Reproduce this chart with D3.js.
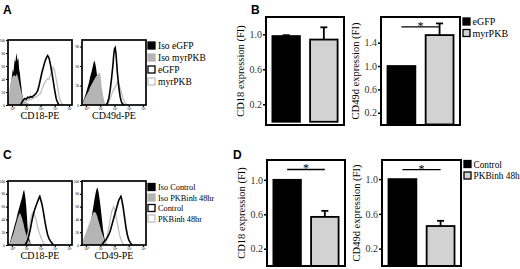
<!DOCTYPE html>
<html>
<head>
<meta charset="utf-8">
<script src="https://cdn.jsdelivr.net/npm/d3@7"></script>
<style>
  body { margin: 0; background: #fff; }
</style>
</head>
<body>
<svg id="fig" width="520" height="269" font-family="Liberation Serif, Times New Roman, serif"></svg>
<script>
// ---- data ----------------------------------------------------------------
// flow histograms: [log decade, % of max count]
var decades = [0, 1, 2, 3, 4];

var a1_isoEgfp = [[-0.3,0],[-0.2,8],[-0.1,30],[0,45],[0.05,55],[0.1,50],[0.15,62],[0.2,70],[0.25,66],[0.3,80],[0.35,74],[0.4,68],[0.45,72],[0.5,55],[0.55,50],[0.6,38],[0.65,30],[0.7,18],[0.8,8],[0.9,3],[1.0,0]];
var a1_isoMyr  = [[-0.3,0],[-0.25,10],[-0.15,28],[-0.05,40],[0.05,44],[0.15,46],[0.25,44],[0.35,48],[0.45,40],[0.55,30],[0.65,20],[0.75,12],[0.85,8],[0.95,6],[1.05,4],[1.2,2],[1.4,0]];
var a1_egfp    = [[0.6,0],[0.7,4],[0.8,8],[0.9,10],[1.0,9],[1.1,12],[1.2,11],[1.3,13],[1.4,12],[1.5,14],[1.6,16],[1.7,18],[1.8,22],[1.9,30],[2.0,40],[2.1,50],[2.2,58],[2.3,66],[2.4,72],[2.5,76],[2.55,74],[2.6,72],[2.7,62],[2.8,50],[2.9,36],[3.0,22],[3.1,10],[3.2,4],[3.3,0]];
var a1_myr     = [[0.7,0],[0.8,4],[0.9,6],[1.0,7],[1.2,8],[1.4,9],[1.6,12],[1.8,14],[2.0,18],[2.1,24],[2.2,30],[2.3,34],[2.4,38],[2.5,40],[2.6,40],[2.7,46],[2.8,54],[2.9,58],[3.0,52],[3.1,40],[3.2,28],[3.3,14],[3.4,6],[3.5,2],[3.6,0]];

var a2_isoEgfp = [[-0.25,0],[-0.2,6],[-0.1,12],[0,18],[0.1,26],[0.2,34],[0.3,44],[0.4,52],[0.5,62],[0.55,66],[0.6,68],[0.65,64],[0.7,58],[0.75,50],[0.8,40],[0.9,24],[1.0,10],[1.1,3],[1.2,0]];
var a2_isoMyr  = [[-0.25,0],[-0.2,5],[-0.1,10],[0,14],[0.1,18],[0.2,22],[0.3,28],[0.4,32],[0.5,36],[0.6,40],[0.7,44],[0.8,46],[0.9,50],[1.0,48],[1.05,40],[1.1,28],[1.2,14],[1.3,5],[1.4,0]];
var a2_egfp    = [[1.4,0],[1.5,3],[1.6,10],[1.7,24],[1.8,42],[1.9,64],[1.95,78],[2.0,86],[2.05,88],[2.1,80],[2.15,66],[2.2,50],[2.3,28],[2.4,12],[2.5,4],[2.6,1],[2.7,0]];
var a2_myr     = [[1.5,0],[1.6,4],[1.7,10],[1.8,16],[1.9,22],[2.0,26],[2.1,30],[2.2,34],[2.25,36],[2.3,32],[2.4,26],[2.5,18],[2.6,10],[2.7,5],[2.8,2],[2.95,0]];

var c1_isoCtrl = [[-0.2,0],[-0.1,8],[0,16],[0.1,24],[0.2,32],[0.3,40],[0.4,50],[0.5,58],[0.6,66],[0.7,74],[0.8,84],[0.85,86],[0.9,80],[0.95,72],[1.0,60],[1.05,44],[1.1,26],[1.2,10],[1.3,3],[1.4,0]];
var c1_isoInh  = [[-0.2,0],[-0.1,6],[0,12],[0.1,18],[0.2,26],[0.3,34],[0.4,42],[0.5,48],[0.55,50],[0.6,48],[0.7,42],[0.8,34],[0.9,24],[1.0,16],[1.1,10],[1.2,6],[1.3,3],[1.4,0]];
var c1_ctrl    = [[0.9,0],[1.0,3],[1.1,8],[1.2,16],[1.3,26],[1.4,38],[1.5,48],[1.6,56],[1.7,62],[1.8,68],[1.9,74],[1.95,76],[2.0,72],[2.1,64],[2.2,52],[2.3,38],[2.4,26],[2.5,16],[2.6,10],[2.7,6],[2.8,3],[2.9,0]];
var c1_inh     = [[0.9,0],[1.0,6],[1.1,16],[1.2,28],[1.3,40],[1.4,48],[1.5,52],[1.55,50],[1.6,46],[1.7,38],[1.8,28],[1.9,20],[2.0,14],[2.1,8],[2.2,4],[2.3,1],[2.4,0]];

var c2_isoCtrl = [[0,0],[0.1,8],[0.2,18],[0.3,30],[0.4,44],[0.5,58],[0.6,72],[0.7,84],[0.75,88],[0.8,90],[0.85,86],[0.9,80],[1.0,64],[1.1,44],[1.2,24],[1.3,10],[1.4,3],[1.5,0]];
var c2_isoInh  = [[-0.25,0],[-0.2,8],[-0.1,14],[0,20],[0.1,26],[0.2,32],[0.3,38],[0.4,44],[0.5,50],[0.6,52],[0.7,50],[0.8,44],[0.9,36],[1.0,28],[1.1,20],[1.2,14],[1.3,8],[1.4,4],[1.6,0]];
var c2_ctrl    = [[1.1,0],[1.2,3],[1.3,6],[1.4,8],[1.5,12],[1.6,16],[1.7,22],[1.8,30],[1.9,38],[2.0,46],[2.1,54],[2.2,62],[2.3,70],[2.4,74],[2.45,76],[2.5,72],[2.6,60],[2.7,44],[2.8,28],[2.9,16],[3.0,8],[3.1,4],[3.2,1],[3.3,0]];
var c2_inh     = [[1.3,0],[1.4,6],[1.5,16],[1.6,28],[1.7,40],[1.8,52],[1.9,58],[1.95,60],[2.0,56],[2.1,46],[2.2,34],[2.3,22],[2.4,12],[2.5,6],[2.6,2],[2.7,0]];

// bar charts: fold induction (FI)
var groupsB = ["eGFP", "myrPKB"];
var cd18B = [0.98, 0.94],  cd18Berr = [0.01, 0.14];
var cd49dB = [1.0, 1.53],  cd49dBerr = [0, 0.20];
var groupsD = ["Control", "PKBinh 48h"];
var cd18D = [1.0, 0.57],   cd18Derr = [0, 0.07];
var cd49dD = [1.0, 0.46],  cd49dDerr = [0, 0.06];

var legendA = ["Iso eGFP", "Iso myrPKB", "eGFP", "myrPKB"];
var legendC = ["Iso Control", "Iso PKBinh 48hr", "Control", "PKBinh 48hr"];

// ---- drawing --------------------------------------------------------------
var svg = d3.select("#fig");
var GRAY = "#b4b4b4", LGRAY = "#c0c0c0", BARGRAY = "#d2d2d2";
var sup = ["\u2070", "\u00b9", "\u00b2", "\u00b3", "\u2074"];

function drawHist(o) {
    var x = d3.scaleLinear().domain([-0.28, 4.21]).range([o.left, o.left + o.w]);
    var y = d3.scaleLinear().domain([0, 100]).range([o.top + o.h, o.top]);
    var g = svg.append("g");
    var area = d3.area().x(function(d) { return x(d[0]); }).y0(y(0)).y1(function(d) { return y(d[1]); });
    var line = d3.line().x(function(d) { return x(d[0]); }).y(function(d) { return y(d[1]); });

    g.append("path").datum(o.isoA).attr("d", area).attr("fill", "#000");
    g.append("path").datum(o.isoB).attr("d", area).attr("fill", GRAY);
    g.append("path").datum(o.lineB).attr("d", line).attr("fill", "none")
        .attr("stroke", LGRAY).attr("stroke-width", 1.3);
    g.append("path").datum(o.lineA).attr("d", line).attr("fill", "none")
        .attr("stroke", "#000").attr("stroke-width", 1.6);

    g.append("rect").attr("x", o.left).attr("y", o.top).attr("width", o.w).attr("height", o.h)
        .attr("fill", "none").attr("stroke", "#000").attr("stroke-width", 1.7);

    var xa = g.append("g").attr("transform", "translate(0," + (o.top + o.h) + ")")
        .call(d3.axisBottom(x).tickValues(decades).tickSize(2).tickPadding(1)
            .tickFormat(function(d) { return "10" + sup[d]; }));
    var ya = g.append("g").attr("transform", "translate(" + o.left + ",0)")
        .call(d3.axisLeft(y).tickValues(o.yTicks).tickSize(2).tickPadding(1));
    [xa, ya].forEach(function(a) {
        a.attr("font-family", null);
        a.select(".domain").remove();
        a.selectAll("line").attr("stroke-width", 1.2);
        a.selectAll("text").attr("font-size", 3.5);
    });

    g.append("text").attr("x", o.left + o.w / 2).attr("y", o.top + o.h + 14)
        .attr("text-anchor", "middle").attr("font-size", 10).text(o.label);
}

function drawLegendHist(names, x0, y0, dy, fs) {
    var styles = [["#000", "#000"], [GRAY, GRAY], ["#fff", "#000"], ["#fff", LGRAY]];
    var g = svg.append("g");
    names.forEach(function(n, i) {
        var cy = y0 + i * dy;
        g.append("rect").attr("x", x0).attr("y", cy - 3.5).attr("width", 7).attr("height", 7)
            .attr("fill", styles[i][0]).attr("stroke", styles[i][1]).attr("stroke-width", 1.3);
        g.append("text").attr("x", x0 + 10).attr("y", cy + 3.3).attr("font-size", fs).text(n);
    });
}

function drawBars(o) {
    var x = d3.scaleBand().domain(o.cats).range([o.left, o.left + o.w])
        .paddingInner(0.27).paddingOuter(0.17);
    var y = d3.scaleLinear().domain(o.domain).range([o.top + o.h, o.top]);
    var g = svg.append("g");
    var fills = ["#000", BARGRAY];

    g.selectAll(".bar").data(o.vals).enter().append("rect")
        .attr("x", function(d, i) { return x(o.cats[i]); })
        .attr("y", function(d) { return y(d); })
        .attr("width", x.bandwidth())
        .attr("height", function(d) { return y(0) - y(d); })
        .attr("fill", function(d, i) { return fills[i]; })
        .attr("stroke", "#000").attr("stroke-width", 1.8);

    o.vals.forEach(function(v, i) {
        if (!o.errs[i]) return;
        var cx = x(o.cats[i]) + x.bandwidth() / 2;
        g.append("line").attr("x1", cx).attr("x2", cx).attr("y1", y(v)).attr("y2", y(v + o.errs[i]))
            .attr("stroke", "#000").attr("stroke-width", 1.8);
        g.append("line").attr("x1", cx - 3.5).attr("x2", cx + 3.5)
            .attr("y1", y(v + o.errs[i])).attr("y2", y(v + o.errs[i]))
            .attr("stroke", "#000").attr("stroke-width", 1.8);
    });

    if (o.sig) {
        var c1 = x(o.cats[0]) + x.bandwidth() / 2, c2 = x(o.cats[1]) + x.bandwidth() / 2;
        g.append("line").attr("x1", c1).attr("x2", c2).attr("y1", y(o.sig)).attr("y2", y(o.sig))
            .attr("stroke", "#000").attr("stroke-width", 1.3);
        g.append("text").attr("x", (c1 + c2) / 2).attr("y", y(o.sig) + 3)
            .attr("text-anchor", "middle").attr("font-size", 12).text("*");
    }

    g.append("rect").attr("x", o.left).attr("y", o.top).attr("width", o.w).attr("height", o.h)
        .attr("fill", "none").attr("stroke", "#000").attr("stroke-width", 2);

    var ya = g.append("g").attr("transform", "translate(" + o.left + ",0)")
        .call(d3.axisLeft(y).tickValues(o.ticks).tickSize(3).tickPadding(1).tickFormat(d3.format(".1f")));
    ya.attr("font-family", null);
    ya.select(".domain").remove();
    ya.selectAll("line").attr("stroke-width", 1.5);
    ya.selectAll("text").attr("font-size", 10).attr("fill", "#333");

    g.append("text")
        .attr("transform", "translate(" + (o.left - 22) + "," + (o.top + o.h / 2) + ") rotate(-90)")
        .attr("text-anchor", "middle").attr("font-size", 10.5).text(o.ylabel);
}

function drawLegendBars(names, x0, y0, fs) {
    var g = svg.append("g");
    names.forEach(function(n, i) {
        var cy = y0 + i * 11.5;
        g.append("rect").attr("x", x0).attr("y", cy - 3.5).attr("width", 7).attr("height", 7)
            .attr("fill", i ? BARGRAY : "#000").attr("stroke", "#000").attr("stroke-width", 1.3);
        g.append("text").attr("x", x0 + 9.5).attr("y", cy + 3.5).attr("font-size", fs).text(n);
    });
}

function panelLetter(t, x, y) {
    svg.append("text").attr("x", x).attr("y", y).attr("font-family", "Liberation Sans, Arial, sans-serif")
        .attr("font-weight", "bold").attr("font-size", 12).text(t);
}

// panel A
drawHist({left: 8, top: 40, w: 64, h: 65, yTicks: [0, 20, 40, 60, 80, 100], label: "CD18-PE",
    isoA: a1_isoEgfp, isoB: a1_isoMyr, lineA: a1_egfp, lineB: a1_myr});
drawHist({left: 82, top: 40, w: 64, h: 65, yTicks: [0, 30, 60, 90], label: "CD49d-PE",
    isoA: a2_isoEgfp, isoB: a2_isoMyr, lineA: a2_egfp, lineB: a2_myr});
drawLegendHist(legendA, 148, 45.5, 12, 9.5);

// panel C
drawHist({left: 8, top: 181, w: 64, h: 64, yTicks: [0, 20, 40, 60, 80, 100], label: "CD18-PE",
    isoA: c1_isoCtrl, isoB: c1_isoInh, lineA: c1_ctrl, lineB: c1_inh});
drawHist({left: 82, top: 181, w: 64, h: 64, yTicks: [0, 20, 40, 60, 80, 100], label: "CD49-PE",
    isoA: c2_isoCtrl, isoB: c2_isoInh, lineA: c2_ctrl, lineB: c2_inh});
drawLegendHist(legendC, 148, 187, 10.5, 8.3);

// panel B
drawBars({left: 266, top: 17, w: 78, h: 108, cats: groupsB, vals: cd18B, errs: cd18Berr,
    domain: [-0.037, 1.198], ticks: [0.2, 0.6, 1.0], ylabel: "CD18 expression (FI)"});
drawBars({left: 381, top: 17, w: 79, h: 108, cats: groupsB, vals: cd49dB, errs: cd49dBerr,
    domain: [-0.01, 1.84], ticks: [0.2, 0.6, 1.0, 1.4], ylabel: "CD49d expression (FI)", sig: 1.67});
drawLegendBars(groupsB, 463, 21.5, 10);

// panel D
drawBars({left: 267, top: 160, w: 78, h: 106, cats: groupsD, vals: cd18D, errs: cd18Derr,
    domain: [0, 1.23], ticks: [0.2, 0.6, 1.0], ylabel: "CD18 expression (FI)", sig: 1.12});
drawBars({left: 382, top: 160, w: 79, h: 106, cats: groupsD, vals: cd49dD, errs: cd49dDerr,
    domain: [0, 1.22], ticks: [0.2, 0.6, 1.0], ylabel: "CD49d expression (FI)", sig: 1.11});
drawLegendBars(groupsD, 464, 164, 9.3);

panelLetter("A", 3, 14);
panelLetter("B", 251, 14);
panelLetter("C", 3, 159);
panelLetter("D", 233, 159);
</script>
</body>
</html>
